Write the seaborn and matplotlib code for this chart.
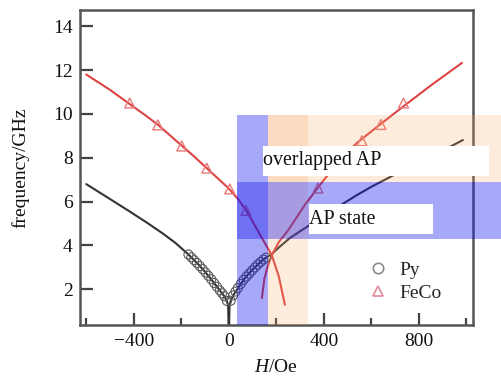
import matplotlib
matplotlib.use("Agg")
import matplotlib.pyplot as plt
from matplotlib.patches import Rectangle
from matplotlib.lines import Line2D
import seaborn as sns
import pandas as pd

# ---------------- data ----------------
py_left_H = [-600, -500, -417, -350, -278, -225, -173, -130, -100, -67, -40, -20, -8, -3, 0]
py_left_f = [6.8, 6.12, 5.55, 5.08, 4.55, 4.12, 3.62, 3.16, 2.8, 2.36, 1.98, 1.7, 1.47, 1.27, 0.0]
py_right_H = [0, 3, 8, 20, 40, 70, 100, 140, 181, 220, 257, 300, 350, 450, 539, 600, 678, 800, 900, 985]
py_right_f = [0.0, 1.25, 1.48, 1.75, 2.08, 2.55, 2.9, 3.32, 3.62, 4.0, 4.34, 4.65, 5.0, 5.7, 6.3,
              6.68, 7.12, 7.8, 8.33, 8.81]

feco_left_H = [-600, -500, -417, -350, -300, -250, -200, -150, -100, -50, 0, 40, 72, 100, 131,
               160, 181, 210, 236]
feco_left_f = [11.8, 11.1, 10.45, 9.93, 9.52, 9.05, 8.57, 8.1, 7.6, 7.1, 6.6, 6.1, 5.62, 5.1, 4.5,
               3.95, 3.55, 2.6, 1.3]
feco_right_H = [139, 150, 165, 181, 210, 250, 320, 383, 460, 539, 640, 735, 850, 981]
feco_right_f = [1.6, 2.5, 3.1, 3.56, 4.15, 4.7, 5.85, 6.76, 7.8, 8.68, 9.55, 10.35, 11.3, 12.33]

py_pts_H = [-170, -158, -146, -134, -122, -110, -98, -86, -74, -62, -50, -38, -28, -18, -8,
            8, 18, 28, 38, 50, 62, 74, 86, 98, 110, 122, 134, 146, 158]
py_pts_f = [3.59, 3.46, 3.33, 3.2, 3.06, 2.92, 2.77, 2.62, 2.46, 2.29, 2.12, 1.95, 1.82, 1.68, 1.47,
            1.48, 1.72, 1.9, 2.06, 2.25, 2.43, 2.58, 2.72, 2.86, 3.0, 3.13, 3.25, 3.36, 3.45]

feco_pts_H = [-417, -299, -198, -93, 4, 72, 375, 560, 640, 735]
feco_pts_f = [10.5, 9.5, 8.54, 7.53, 6.58, 5.6, 6.62, 8.78, 9.52, 10.5]

x_ticks_major = [-400, 0, 400, 800]
x_tick_labels = ["\u2212400", "0", "400", "800"]
x_ticks_minor = [-600, -200, 200, 600, 1000]
y_ticks = [2, 4, 6, 8, 10, 12, 14]

# shaded regions: (H0, H1, f0, f1, colour)
bands = [
    (34, 164, 0.37, 9.95, "blue"),
    (164, 333, 0.37, 9.95, "orange"),
    (164, 1150, 6.9, 9.95, "orange"),
    (34, 1150, 4.28, 6.9, "blue"),
]
# label boxes: (text, H0, H1, f0, f1)
boxes = [
    ("overlapped AP", 143, 1095, 7.17, 8.54),
    ("AP state", 337, 859, 4.52, 5.89),
]

# ---------------- style ----------------
sns.set_theme(style="ticks")
plt.rcParams["font.family"] = ["Liberation Serif", "DejaVu Serif"]
plt.rcParams["mathtext.fontset"] = "custom"
plt.rcParams["mathtext.rm"] = "Liberation Serif"
plt.rcParams["mathtext.it"] = "Liberation Serif:italic"

fig = plt.figure(figsize=(5.02, 3.78), dpi=100)
ax = fig.add_axes([0.159, 0.140, 0.783, 0.834])

line_black = "#333333"
line_red = "#dc4444"

def curve(H, f, color):
    df = pd.DataFrame({"H": H, "f": f})
    sns.lineplot(data=df, x="H", y="f", sort=False, color=color, lw=1.5, ax=ax,
                 estimator=None, zorder=2)

curve(py_left_H, py_left_f, line_black)
curve(py_right_H, py_right_f, line_black)
curve(feco_left_H, feco_left_f, line_red)
curve(feco_right_H, feco_right_f, line_red)

sns.scatterplot(x=py_pts_H, y=py_pts_f, marker="o", s=42, facecolor="none",
                edgecolor="#5a5a5a", linewidth=0.8, ax=ax, zorder=2.2)
sns.scatterplot(x=feco_pts_H, y=feco_pts_f, marker="^", s=50, facecolor="none",
                edgecolor="#e87878", linewidth=1.0, ax=ax, zorder=2.2)

band_colors = {"blue": ((0.08, 0.08, 0.93), 0.37), "orange": ((0.98, 0.64, 0.36), 0.21)}
for h0, h1, f0, f1, c in bands:
    col, a = band_colors[c]
    ax.add_patch(Rectangle((h0, f0), h1 - h0, f1 - f0, facecolor=col, alpha=a,
                           edgecolor="none", clip_on=False, zorder=3))

for txt, h0, h1, f0, f1 in boxes:
    ax.add_patch(Rectangle((h0, f0), h1 - h0, f1 - f0, facecolor="white",
                           edgecolor="none", clip_on=False, zorder=4))
    ax.text(h0, (f0 + f1) / 2, txt, fontsize=14.4, va="center", ha="left",
            color="#111111", zorder=5)

ax.set_xlim(-627, 1027)
ax.set_ylim(0.37, 14.75)
ax.set_xticks(x_ticks_major)
ax.set_xticklabels(x_tick_labels)
ax.set_xticks(x_ticks_minor, minor=True)
ax.set_yticks(y_ticks)
ax.tick_params(axis="both", which="major", direction="in", length=9, width=1.6,
               color="#444444", labelsize=14, labelcolor="#111111")
ax.tick_params(axis="x", which="minor", direction="in", length=5, width=1.6, color="#444444")
ax.tick_params(axis="x", which="major", pad=6)
ax.tick_params(axis="y", which="major", pad=5)
for s in ax.spines.values():
    s.set_linewidth(1.8)
    s.set_color("#555555")

ax.set_xlabel(r"$H$/Oe", fontsize=14, color="#111111", labelpad=6)
ax.set_ylabel("frequency/GHz", fontsize=14, color="#111111", labelpad=17)

handles = [
    Line2D([], [], ls="none", marker="o", ms=7.5, mfc="none", mec="#8a8a8a", mew=1.2),
    Line2D([], [], ls="none", marker="^", ms=7.5, mfc="none", mec="#e08a9a", mew=1.2),
]
ax.legend(handles, ["Py", "FeCo"], loc="upper left", bbox_to_anchor=(0.733, 0.203),
          frameon=False, borderaxespad=0, borderpad=0, handlelength=1.0,
          handletextpad=0.6, labelspacing=0.3, fontsize=14)

fig.savefig("out.png", dpi=100)
